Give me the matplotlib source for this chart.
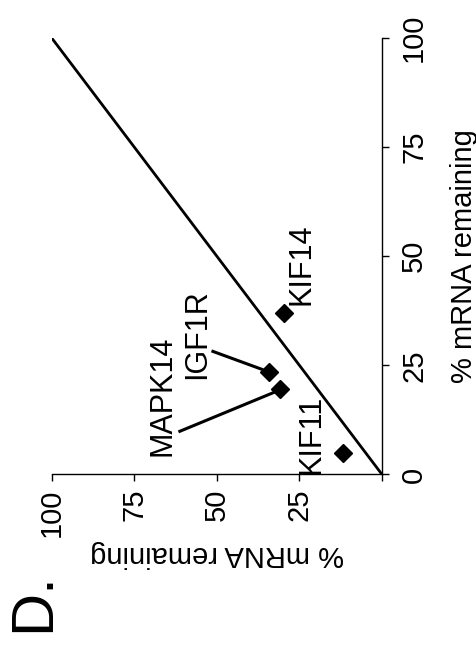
import matplotlib
matplotlib.use("Agg")
import matplotlib.pyplot as plt

plt.rcParams['font.family'] = ['Liberation Sans', 'DejaVu Sans']

# data (x = bottom axis of the original figure, y = left axis); figure is turned 90 deg
genes = ['KIF11', 'MAPK14', 'IGF1R', 'KIF14']
x_vals = [4.9, 19.6, 23.4, 36.9]
y_vals = [11.9, 30.9, 34.1, 29.6]
ticks = [0, 25, 50, 75, 100]
axis_label = '% mRNA remaining'

fig = plt.figure(figsize=(4.77, 6.46), dpi=100)
ax = fig.add_axes([0.1084, 0.2655, 0.6925, 0.6757])

# horizontal screen direction = y data (reversed), vertical = x data
ax.plot([0, 100], [0, 100], color='black', lw=2.0, solid_capstyle='butt')
ax.plot(y_vals, x_vals, linestyle='none', marker='D', color='black', markersize=9)

ax.set_xlim(100, 0)
ax.set_ylim(0, 100)

for s in ['top', 'left']:
    ax.spines[s].set_visible(False)
ax.spines['bottom'].set_linewidth(1.0)
ax.spines['right'].set_linewidth(1.0)

ax.yaxis.tick_right()
ax.yaxis.set_label_position('right')
ax.set_xticks(ticks)
ax.set_xticklabels(['' if t == 0 else str(t) for t in ticks], rotation=90, fontsize=21)
ax.set_yticks(ticks)
ax.set_yticklabels([str(t) for t in ticks], rotation=90, fontsize=21, va='center')
ax.tick_params(axis='x', direction='out', length=5, width=1.0, pad=5)
ax.tick_params(axis='y', direction='out', length=5, width=1.0, pad=8)

ax.set_ylabel(axis_label, rotation=90, fontsize=21, labelpad=16)
ax.set_xlabel(axis_label, rotation=180, fontsize=21, labelpad=2)

# gene labels and leader lines
ax.text(21.3, 9.3, genes[0], rotation=90, ha='center', va='center', fontsize=22)
ax.text(66.4, 18.0, genes[1], rotation=90, ha='center', va='center', fontsize=22)
ax.text(56.1, 32.1, genes[2], rotation=90, ha='center', va='center', fontsize=22)
ax.text(24.5, 48.2, genes[3], rotation=90, ha='center', va='center', fontsize=22)
ax.plot([61.2, 32.1], [9.9, 19.0], color='black', lw=2.2)
ax.plot([51.2, 36.4], [28.2, 24.1], color='black', lw=2.2)

fig.text(0.071, 0.068, 'D.', rotation=90, ha='center', va='center', fontsize=43)

fig.savefig('out.png', dpi=100)
